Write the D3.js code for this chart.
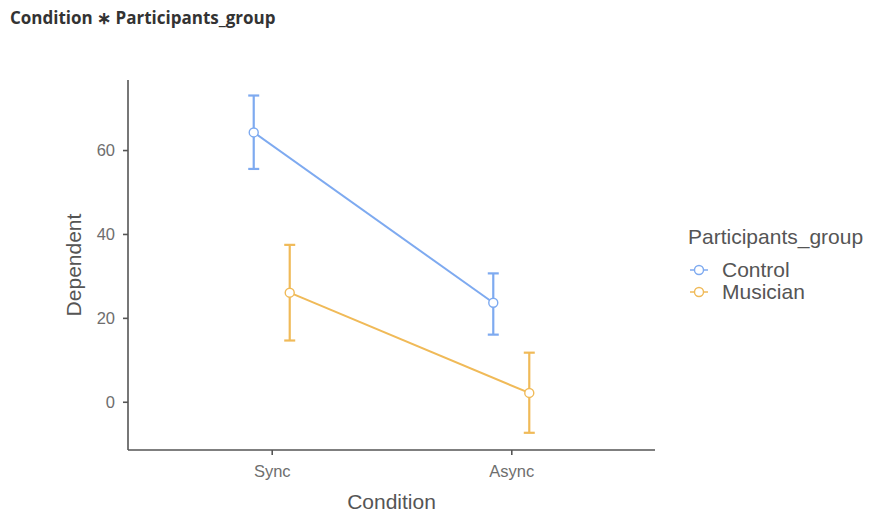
<!DOCTYPE html>
<html>
<head>
<meta charset="utf-8">
<script src="https://cdn.jsdelivr.net/npm/d3@7"></script>
<style>
  body { margin: 0; background: #fff; }
  svg { display: block; font-family: "Liberation Sans", Arial, sans-serif; }
  .axis path, .axis line { stroke: #555; stroke-width: 1.6; }
  .axis text { fill: #6e6e6e; font-size: 16.5px; }
</style>
</head>
<body>
<svg width="871" height="518"></svg>
<script>
'use strict';

// data
var conditions = ['Sync', 'Async'];
var groups = ['Control', 'Musician'];
var groupColors = ['#7eaaf0', '#f0ba58'];
var means = [[64.2, 23.6], [26.0, 2.1]];
var upper = [[73.0, 30.6], [37.4, 11.7]];
var lower = [[55.5, 16.0], [14.6, -7.4]];
var yTicks = [0, 20, 40, 60];

var svg = d3.select('svg'),
    plotLeft = 128, plotTop = 80, plotRight = 655, plotBottom = 450;

svg.append('text')
    .attr('x', 10)
    .attr('y', 24)
    .style('font-family', '"Open Sans", sans-serif')
    .style('font-weight', 'bold')
    .style('font-size', '17px')
    .attr('fill', '#333')
    .text('Condition \u2217 Participants_group');

var x = d3.scalePoint()
    .domain(conditions)
    .range([plotLeft, plotRight])
    .padding(0.6);
var dodge = d3.scalePoint()
    .domain(groups)
    .range([-18, 18]);
var y = d3.scaleLinear()
    .domain([-11.5, 76.7])
    .range([plotBottom, plotTop]);

svg.append('g')
    .attr('class', 'axis')
    .attr('transform', 'translate(0,' + plotBottom + ')')
    .call(d3.axisBottom(x).tickSize(5).tickPadding(10).tickSizeOuter(0))
    .select('.domain').attr('d', 'M' + plotLeft + ',0H' + plotRight);

svg.append('g')
    .attr('class', 'axis')
    .attr('transform', 'translate(' + plotLeft + ',0)')
    .call(d3.axisLeft(y).tickValues(yTicks).tickSize(5).tickPadding(8).tickSizeOuter(0))
    .select('.domain').attr('d', 'M0,' + plotTop + 'V' + plotBottom);

svg.append('text')
    .attr('x', (plotLeft + plotRight) / 2)
    .attr('y', 509)
    .attr('text-anchor', 'middle')
    .attr('fill', '#555')
    .style('font-size', '21px')
    .text('Condition');

svg.append('text')
    .attr('transform', 'translate(81,' + (plotTop + plotBottom) / 2 + ') rotate(-90)')
    .attr('text-anchor', 'middle')
    .attr('fill', '#555')
    .style('font-size', '21px')
    .text('Dependent');

var series = groups.map(function(g, i) {
    return {
        name: g,
        color: groupColors[i],
        values: conditions.map(function(c, j) {
            return {cond: c, mean: means[i][j], hi: upper[i][j], lo: lower[i][j]};
        })
    };
});

var px = function(s, d) { return x(d.cond) + dodge(s.name); };

var line = d3.line();

var grp = svg.selectAll('.series')
    .data(series)
    .enter()
    .append('g')
    .attr('class', 'series');

grp.append('path')
    .attr('fill', 'none')
    .attr('stroke', function(s) { return s.color; })
    .attr('stroke-width', 2)
    .attr('d', function(s) {
        return line(s.values.map(function(d) { return [px(s, d), y(d.mean)]; }));
    });

grp.each(function(s) {
    var g = d3.select(this);
    var bars = g.selectAll('.err')
        .data(s.values)
        .enter()
        .append('g')
        .attr('class', 'err')
        .attr('stroke', s.color)
        .attr('stroke-width', 2.2);
    bars.append('line')
        .attr('x1', function(d) { return px(s, d); })
        .attr('x2', function(d) { return px(s, d); })
        .attr('y1', function(d) { return y(d.hi); })
        .attr('y2', function(d) { return y(d.lo); });
    bars.append('line')
        .attr('x1', function(d) { return px(s, d) - 5.5; })
        .attr('x2', function(d) { return px(s, d) + 5.5; })
        .attr('y1', function(d) { return y(d.hi); })
        .attr('y2', function(d) { return y(d.hi); });
    bars.append('line')
        .attr('x1', function(d) { return px(s, d) - 5.5; })
        .attr('x2', function(d) { return px(s, d) + 5.5; })
        .attr('y1', function(d) { return y(d.lo); })
        .attr('y2', function(d) { return y(d.lo); });
    g.selectAll('circle')
        .data(s.values)
        .enter()
        .append('circle')
        .attr('cx', function(d) { return px(s, d); })
        .attr('cy', function(d) { return y(d.mean); })
        .attr('r', 4.5)
        .attr('fill', '#fff')
        .attr('stroke', s.color)
        .attr('stroke-width', 1.4);
});

// legend
var legend = svg.append('g');
legend.append('text')
    .attr('x', 688)
    .attr('y', 244)
    .attr('fill', '#555')
    .style('font-size', '21px')
    .text('Participants_group');

var items = legend.selectAll('.item')
    .data(series)
    .enter()
    .append('g')
    .attr('class', 'item')
    .attr('transform', function(d, i) { return 'translate(0,' + (270 + i * 22) + ')'; });
items.append('line')
    .attr('x1', 690).attr('x2', 708)
    .attr('stroke', function(d) { return d.color; })
    .attr('stroke-width', 1.5);
items.append('circle')
    .attr('cx', 699)
    .attr('r', 4.5)
    .attr('fill', '#fff')
    .attr('stroke', function(d) { return d.color; })
    .attr('stroke-width', 1.4);
items.append('text')
    .attr('x', 722)
    .attr('y', 7)
    .attr('fill', '#555')
    .style('font-size', '21px')
    .text(function(d) { return d.name; });
</script>
</body>
</html>
